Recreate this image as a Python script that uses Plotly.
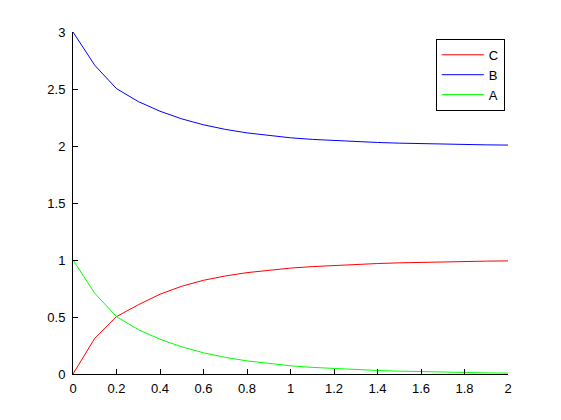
import plotly.graph_objects as go

t = [0.0, 0.1, 0.2, 0.3, 0.4, 0.5, 0.6, 0.7, 0.8, 0.9, 1.0,
     1.1, 1.2, 1.3, 1.4, 1.5, 1.6, 1.7, 1.8, 1.9, 2.0]
A = [1.0, 0.708, 0.503, 0.390, 0.305, 0.238, 0.186, 0.146, 0.115, 0.091, 0.072,
     0.058, 0.047, 0.038, 0.031, 0.025, 0.020, 0.016, 0.013, 0.010, 0.008]
B = [3.0, 2.708, 2.503, 2.390, 2.305, 2.238, 2.186, 2.146, 2.115, 2.091, 2.072,
     2.058, 2.047, 2.038, 2.031, 2.025, 2.020, 2.016, 2.013, 2.010, 2.008]
C = [0.0, 0.313, 0.503, 0.607, 0.700, 0.770, 0.822, 0.860, 0.889, 0.911, 0.929,
     0.942, 0.953, 0.962, 0.969, 0.975, 0.980, 0.984, 0.987, 0.990, 0.992]

xticks = [0, 0.2, 0.4, 0.6, 0.8, 1, 1.2, 1.4, 1.6, 1.8, 2]
xlabels = ["0", "0.2", "0.4", "0.6", "0.8", "1", "1.2", "1.4", "1.6", "1.8", "2"]
yticks = [0, 0.5, 1, 1.5, 2, 2.5, 3]
ylabels = ["0", "0.5", "1", "1.5", "2", "2.5", "3"]

FONT = "Liberation Sans, Arial, Helvetica"

fig = go.Figure()
fig.add_trace(go.Scatter(x=t, y=C, name="C", mode="lines", line=dict(color="#ff0000", width=1)))
fig.add_trace(go.Scatter(x=t, y=B, name="B", mode="lines", line=dict(color="#0000ff", width=1)))
fig.add_trace(go.Scatter(x=t, y=A, name="A", mode="lines", line=dict(color="#00ff00", width=1)))

axis_common = dict(showline=True, linecolor="black", linewidth=1, ticks="inside",
                   ticklen=5, tickcolor="black", showgrid=False, zeroline=False,
                   tickfont=dict(family=FONT, size=13, color="black"))
fig.update_xaxes(range=[0, 2], tickvals=xticks, ticktext=xlabels, ticklabelstandoff=2, **axis_common)
fig.update_yaxes(range=[0, 3], tickvals=yticks, ticktext=ylabels, ticklabelstandoff=4, **axis_common)

fig.update_layout(
    width=553, height=412,
    margin=dict(l=65, r=53, t=24, b=46),
    paper_bgcolor="white", plot_bgcolor="white",
    legend=dict(x=0.834, y=0.98, xanchor="left", yanchor="top",
                bgcolor="white", bordercolor="black", borderwidth=1,
                font=dict(family=FONT, size=13, color="black"),
                traceorder="normal", itemwidth=42, tracegroupgap=0),
    showlegend=True,
)
fig.write_html("out.html")
